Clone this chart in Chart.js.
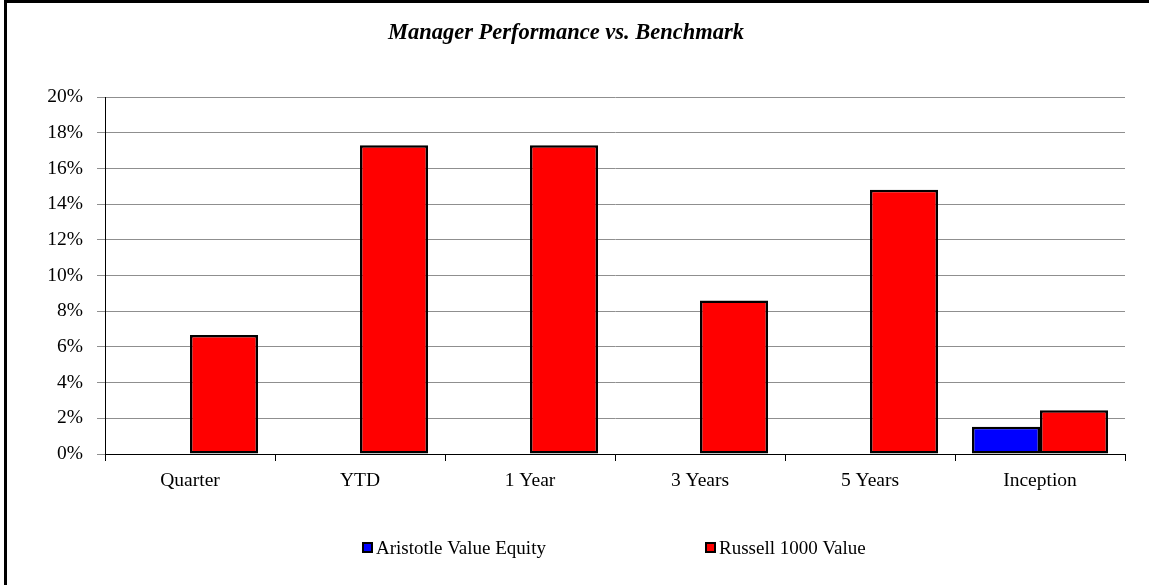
<!DOCTYPE html>
<html><head><meta charset="utf-8">
<script src="https://cdn.jsdelivr.net/npm/chart.js@4.4.0/dist/chart.umd.min.js"></script>
<style>html,body{margin:0;padding:0;background:#fff;overflow:hidden}#wrap{position:relative;width:1149px;height:585px}</style>
</head><body><div id="wrap"><canvas id="c" width="1149" height="585"></canvas></div>
<script>
const categories = ['Quarter', 'YTD', '1 Year', '3 Years', '5 Years', 'Inception'];
const managerValues = [null, null, null, null, null, 1.52];
const benchmarkValues = [6.67, 17.3, 17.3, 8.6, 14.8, 2.45];
const seriesNames = ['Aristotle Value Equity', 'Russell 1000 Value'];
const seriesColors = ['#0000FF', '#FF0000'];
const chartTitle = 'Manager Performance vs. Benchmark';
const yMin = 0, yMax = 20, yStep = 2;

const SERIF = '"Liberation Serif", "Times New Roman", serif';

const framePlugin = {
  id: 'frame',
  beforeDraw(chart) {
    const c = chart.ctx;
    c.save();
    c.fillStyle = '#fff';
    c.fillRect(0, 0, chart.width, chart.height);
    c.fillStyle = '#000';
    c.fillRect(4, 0, 3, chart.height);
    c.fillRect(4, 0, chart.width - 4, 3);
    c.restore();
  },
  afterDraw(chart) {
    const c = chart.ctx;
    const a = chart.chartArea;
    const xs = [a.left + 257, a.left + 600];
    const yc = 548;
    c.save();
    c.font = '19px ' + SERIF;
    c.textBaseline = 'middle';
    c.textAlign = 'left';
    chart.data.datasets.forEach((ds, i) => {
      c.fillStyle = '#000';
      c.fillRect(xs[i], yc - 6, 11, 11);
      c.fillStyle = ds.backgroundColor;
      c.fillRect(xs[i] + 2, yc - 4, 7, 7);
      c.fillStyle = '#000';
      c.fillText(ds.label, xs[i] + 14, yc + 1);
    });
    c.restore();
  }
};

new Chart(document.getElementById('c'), {
  type: 'bar',
  data: {
    labels: categories,
    datasets: [
      { label: seriesNames[0], data: managerValues, backgroundColor: seriesColors[0], borderColor: '#000', borderWidth: 2.5, borderSkipped: false },
      { label: seriesNames[1], data: benchmarkValues, backgroundColor: seriesColors[1], borderColor: '#000', borderWidth: 2.5, borderSkipped: false }
    ]
  },
  options: {
    responsive: false,
    animation: false,
    devicePixelRatio: 1,
    categoryPercentage: 0.8,
    barPercentage: 1.0,
    layout: { padding: { left: 7, right: 24, top: 3, bottom: 60 } },
    plugins: {
      legend: { display: false },
      tooltip: { enabled: false },
      title: {
        display: true,
        text: chartTitle,
        color: '#000',
        font: { family: SERIF, size: 22.5, weight: 'bold', style: 'italic', lineHeight: 1.2 },
        padding: { top: 17, bottom: 50 }
      }
    },
    scales: {
      x: {
        afterFit(s) { s.height = 71; },
        grid: { offset: true, drawOnChartArea: false, drawTicks: true, tickLength: 7, color: '#000', tickColor: '#000' },
        border: { color: '#000', width: 1 },
        ticks: { color: '#000', font: { family: SERIF, size: 19.5 }, padding: 8, maxRotation: 0 }
      },
      y: {
        min: yMin, max: yMax,
        afterFit(s) { s.width = 98; },
        grid: {
          color: (ctx) => (ctx.tick && ctx.tick.value === 0 ? '#000' : '#8f8f8f'),
          tickColor: '#8f8f8f',
          tickLength: 8, lineWidth: 1
        },
        border: { color: '#000', width: 1 },
        ticks: {
          stepSize: yStep, color: '#000', padding: 14,
          font: { family: SERIF, size: 19.5 },
          callback: (v) => v + '%'
        }
      }
    }
  },
  plugins: [framePlugin]
});
</script></body></html>
